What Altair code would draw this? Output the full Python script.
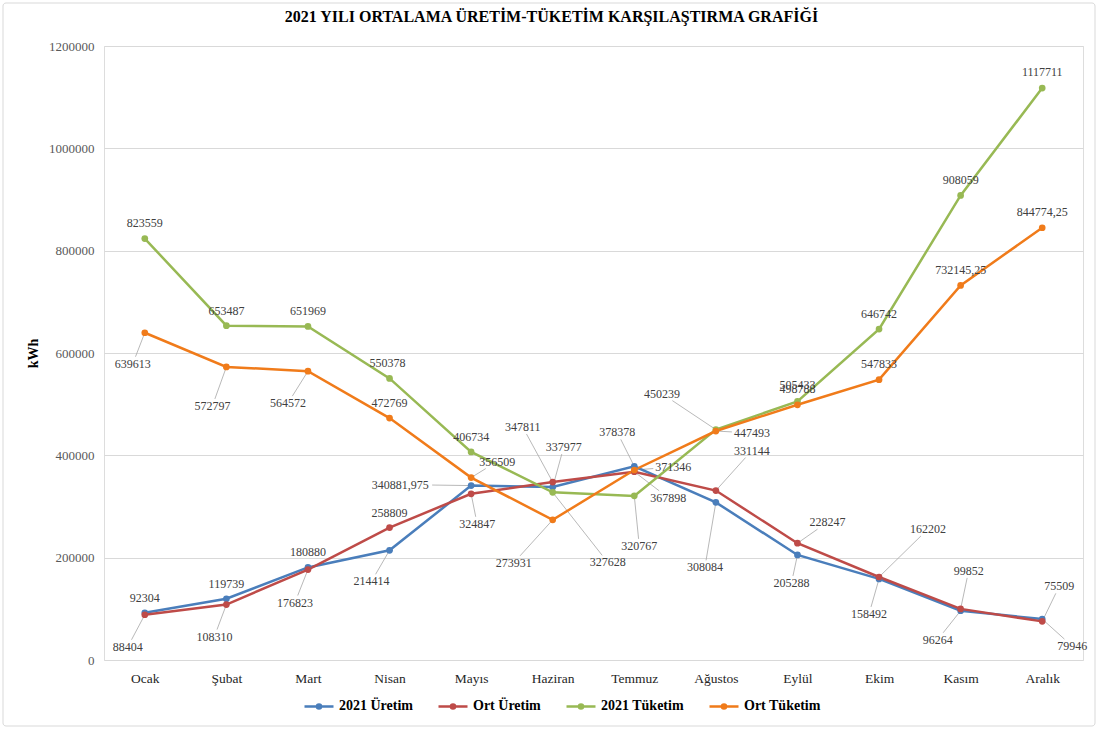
import altair as alt
import pandas as pd

months = ["Ocak", "Şubat", "Mart", "Nisan", "Mayıs", "Haziran", "Temmuz",
          "Ağustos", "Eylül", "Ekim", "Kasım", "Aralık"]
series_names = ["2021 Üretim", "Ort Üretim", "2021 Tüketim", "Ort Tüketim"]

uretim_2021 = [92304, 119739, 180880, 214414, 340881.975, 337977, 378378,
               308084, 205288, 158492, 96264, 79946]
ort_uretim = [88404, 108310, 176823, 258809, 324847, 347811, 367898,
              331144, 228247, 162202, 99852, 75509]
tuketim_2021 = [823559, 653487, 651969, 550378, 406734, 327628, 320767,
                450239, 505433, 646742, 908059, 1117711]
ort_tuketim = [639613, 572797, 564572, 472769, 356509, 273931, 371346,
               447493, 498788, 547833, 732145.25, 844774.25]

colors = ["#4A7EBB", "#BE4B48", "#98B954", "#F07B1A"]

# data-label placement (pixel offset from its point, leader line yes/no)
off_uretim_2021 = [(0, -15, 0), (0, -15, 0), (0, -15, 0), (-18, 31, 1), (-71, -1, 1),
                   (11, -40, 1), (-17, -34, 1), (-11, 65, 1), (-6, 28, 1), (-10, 35, 1),
                   (-23, 29, 1), (30, 27, 1)]
off_ort_uretim = [(-17, 32, 1), (-12, 32, 1), (-13, 33, 1), (0, -15, 0), (6, 30, 1),
                  (-30, -55, 1), (34, 26, 1), (36, -40, 1), (30, -21, 1), (49, -48, 1),
                  (8, -38, 1), (17, -35, 1)]
off_tuketim_2021 = [(0, -16, 0), (0, -15, 0), (0, -15, 0), (-2, -15, 0), (0, -15, 0),
                    (55, 70, 1), (5, 50, 1), (-54, -36, 1), (0, -16, 0), (0, -15, 0),
                    (0, -15, 0), (0, -16, 0)]
off_ort_tuketim = [(-12, 31, 1), (-14, 39, 1), (-20, 32, 1), (0, -15, 0), (26, -16, 1),
                   (-39, 43, 1), (39, -3, 1), (36, 2, 1), (0, -16, 0), (0, -16, 0),
                   (0, -15, 0), (0, -16, 0)]

W, H = 979, 614
YMAX = 1200000
PX_X = 12 / W          # data units per pixel (x)
PX_Y = YMAX / H        # data units per pixel (y)


def fmt(v):
    if float(v).is_integer():
        return str(int(v))
    return ("%s" % v).replace(".", ",")


rows = []
all_vals = [uretim_2021, ort_uretim, tuketim_2021, ort_tuketim]
all_offs = [off_uretim_2021, off_ort_uretim, off_tuketim_2021, off_ort_tuketim]
for s, vals, offs in zip(series_names, all_vals, all_offs):
    for i, (v, (dx, dy, lead)) in enumerate(zip(vals, offs)):
        txt = fmt(v)
        hw = 3.0 * len(txt) + 2
        hh = 7.0
        tx = hw / abs(dx) if dx else 1e9
        ty = hh / abs(dy) if dy else 1e9
        t = min(tx, ty)
        ex, ey = dx * (1 - t), dy * (1 - t)
        rows.append(dict(
            series=s, idx=i, value=v, label=txt,
            lx=i + dx * PX_X, ly=v - dy * PX_Y,
            ex=i + ex * PX_X, ey=v - ey * PX_Y,
            lead=bool(lead and t < 1),
        ))
df = pd.DataFrame(rows)

FONT = "Times New Roman, Liberation Serif, Times, serif"
month_expr = "[" + ",".join("'%s'" % m for m in months) + "][datum.value]"

x_axis = alt.Axis(values=list(range(12)), labelExpr=month_expr, grid=False, ticks=False,
                  domain=False, title=None, labelFont=FONT, labelFontSize=13.5,
                  labelColor="#262626", labelPadding=11, labelOverlap=False)
y_axis = alt.Axis(values=list(range(0, YMAX + 1, 200000)), format="d", title="kWh",
                  grid=True, gridColor="#D9D9D9", domain=False, ticks=False,
                  labelFont=FONT, labelFontSize=13, labelColor="#595959", labelPadding=10,
                  titleFont=FONT, titleFontSize=14, titleFontWeight="bold",
                  titleColor="black", titlePadding=8)
xs = alt.Scale(domain=[-0.5, 11.5], nice=False, zero=False)
ys = alt.Scale(domain=[0, YMAX], nice=False)

legend = alt.Legend(
    orient="none", legendX=199, legendY=644, direction="horizontal", title=None,
    labelFont=FONT, labelFontWeight="bold", labelFontSize=14, labelColor="black",
    symbolType="M-1,0L1,0M-0.14,0a0.14,0.14 0 1,0 0.28,0a0.14,0.14 0 1,0 -0.28,0",
    symbolSize=841, symbolStrokeWidth=2.5, labelOffset=4, columnPadding=20,
)
color = alt.Color("series:N", scale=alt.Scale(domain=series_names, range=colors),
                  legend=legend)

base = alt.Chart(df)

frame = alt.Chart(alt.Data(values=[{}])).mark_rect(
    filled=False, stroke="#D9D9D9", strokeWidth=1, cornerRadius=3
).encode(x=alt.value(-101), x2=alt.value(991), y=alt.value(-43), y2=alt.value(680))

lines = base.mark_line(strokeWidth=2.5).encode(
    x=alt.X("idx:Q", scale=xs, axis=x_axis),
    y=alt.Y("value:Q", scale=ys, axis=y_axis),
    color=color,
)
points = base.mark_point(filled=True, size=45, opacity=1).encode(
    x=alt.X("idx:Q", scale=xs, axis=x_axis),
    y=alt.Y("value:Q", scale=ys, axis=y_axis),
    color=color,
)
leaders = base.transform_filter("datum.lead").mark_rule(
    color="#A6A6A6", strokeWidth=0.8
).encode(
    x=alt.X("idx:Q", scale=xs, axis=x_axis),
    y=alt.Y("value:Q", scale=ys, axis=y_axis),
    x2="ex:Q", y2="ey:Q",
)
labels = base.mark_text(font=FONT, fontSize=12, color="#404040",
                        align="center", baseline="middle").encode(
    x=alt.X("lx:Q", scale=xs, axis=x_axis),
    y=alt.Y("ly:Q", scale=ys, axis=y_axis),
    text="label:N",
)

chart = alt.layer(frame, leaders, lines, points, labels).properties(
    width=W, height=H,
    title=alt.TitleParams(
        "2021 YILI ORTALAMA ÜRETİM-TÜKETİM KARŞILAŞTIRMA GRAFİĞİ",
        font=FONT, fontSize=16, fontWeight="bold", color="black",
        anchor="middle", frame="group", dx=-42, offset=-22,
    ),
    autosize=alt.AutoSizeParams(type="none"),
    padding={"left": 104, "top": 46, "right": 16, "bottom": 69},
).configure_view(stroke=None).configure(background="white")

chart.save("out.html", embed_options={"renderer": "svg", "actions": False})
